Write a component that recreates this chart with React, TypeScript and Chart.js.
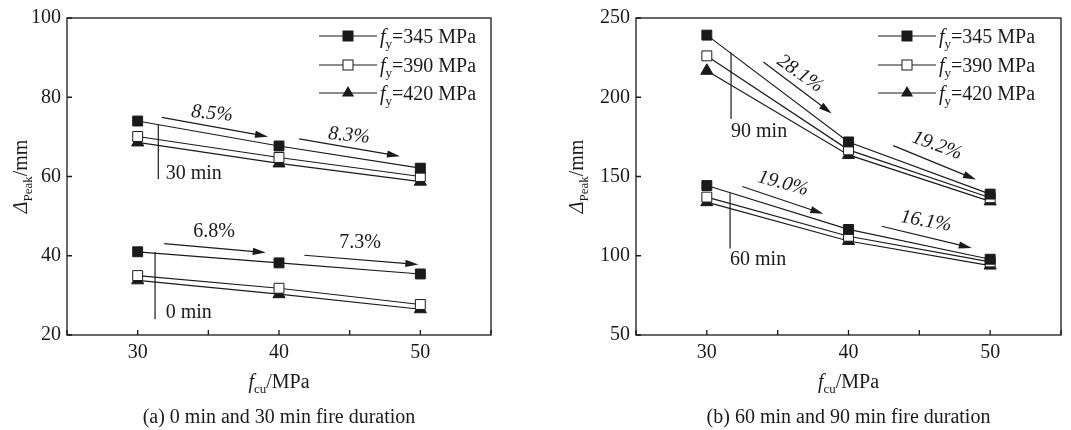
import { useEffect, useRef } from "react";
import { Chart, registerables } from "chart.js";

Chart.register(...registerables);

const FONT = "'Liberation Serif', 'Times New Roman', serif";
const INK = "#1a1a1a";
const FS = 20; // main text size
const SUB = 13; // subscript size

// Concrete cube strength f_cu (MPa)
const fcu = [30, 40, 50];
const fcuLabeled = [30, 40, 50];

// Steel yield strengths (MPa) shown in the legend
const steelGrades = ["345", "390", "420"];

// Peak deflection Δ_Peak (mm), panel (a)
const peak0_fy345 = [41.0, 38.2, 35.4];
const peak0_fy390 = [35.0, 31.8, 27.7];
const peak0_fy420 = [33.8, 30.3, 26.5];
const peak30_fy345 = [74.0, 67.7, 62.1];
const peak30_fy390 = [70.1, 64.8, 60.0];
const peak30_fy420 = [68.6, 63.3, 58.7];

// Peak deflection Δ_Peak (mm), panel (b)
const peak60_fy345 = [144.3, 116.6, 97.8];
const peak60_fy390 = [137.0, 112.3, 96.1];
const peak60_fy420 = [133.8, 109.3, 93.8];
const peak90_fy345 = [239.2, 171.8, 138.9];
const peak90_fy390 = [226.1, 166.8, 136.6];
const peak90_fy420 = [216.7, 163.6, 134.3];

// Reduction labels (text, rotation in degrees, italic)
const pctA = [
  { text: "8.5%", at: [35.26, 75.85], angle: 5, italic: true },
  { text: "8.3%", at: [44.95, 70.31], angle: 5, italic: true },
  { text: "6.8%", at: [35.4, 46.0], angle: 0, italic: false },
  { text: "7.3%", at: [45.73, 43.2], angle: 0, italic: false },
];
const pctB = [
  { text: "28.1%", at: [36.58, 214.8], angle: 35, italic: true },
  { text: "19.2%", at: [46.25, 169.5], angle: 20, italic: true },
  { text: "19.0%", at: [35.38, 145.6], angle: 15, italic: true },
  { text: "16.1%", at: [45.47, 121.7], angle: 10, italic: true },
];

// Trend arrows, in axis units
const arrowsA = [
  { from: [31.7, 74.9], to: [39.22, 70.06] },
  { from: [41.42, 69.48], to: [48.56, 65.11] },
  { from: [31.88, 43.07], to: [39.06, 40.8] },
  { from: [41.79, 40.13], to: [49.86, 37.79] },
];
const arrowsB = [
  { from: [33.99, 222.3], to: [38.81, 189.8] },
  { from: [43.16, 169.5], to: [49.0, 148.1] },
  { from: [32.5, 143.7], to: [38.22, 126.5] },
  { from: [42.34, 118.6], to: [48.7, 104.9] },
];

// Fire-duration callouts: leader line plus label
const durationA = [
  { label: "30 min", x: 31.46, top: 73.0, bottom: 59.4, labelAt: [31.98, 60.68] },
  { label: "0 min", x: 31.23, top: 40.96, bottom: 24.0, labelAt: [31.98, 25.6] },
];
const durationB = [
  { label: "90 min", x: 31.71, top: 228.2, bottom: 186.3, labelAt: [31.71, 178.3] },
  { label: "60 min", x: 31.64, top: 139.5, bottom: 104.5, labelAt: [31.64, 97.6] },
];

type Part = { t: string; italic?: boolean; sub?: boolean };

function drawRich(ctx: CanvasRenderingContext2D, parts: Part[], x: number, y: number, align: "left" | "center") {
  const fontOf = (p: Part) => `${p.italic ? "italic " : ""}${p.sub ? SUB : FS}px ${FONT}`;
  const widths = parts.map((p) => {
    ctx.font = fontOf(p);
    return ctx.measureText(p.t).width;
  });
  const total = widths.reduce((s, w) => s + w, 0);
  let cx = align === "center" ? x - total / 2 : x;
  ctx.textAlign = "left";
  ctx.textBaseline = "alphabetic";
  parts.forEach((p, i) => {
    ctx.font = fontOf(p);
    ctx.fillText(p.t, cx, y + (p.sub ? 4.5 : 0));
    cx += widths[i];
  });
}

function drawArrow(ctx: CanvasRenderingContext2D, x1: number, y1: number, x2: number, y2: number) {
  const ang = Math.atan2(y2 - y1, x2 - x1);
  const L = 13;
  const H = 3.6;
  const c = Math.cos(ang);
  const s = Math.sin(ang);
  const bx = x2 - L * c;
  const by = y2 - L * s;
  ctx.beginPath();
  ctx.moveTo(x1, y1);
  ctx.lineTo(bx + 2 * c, by + 2 * s);
  ctx.stroke();
  ctx.beginPath();
  ctx.moveTo(x2, y2);
  ctx.lineTo(bx - H * s, by + H * c);
  ctx.lineTo(bx + H * s, by - H * c);
  ctx.closePath();
  ctx.fill();
}

const markerStyles = [
  { pointStyle: "rect", backgroundColor: INK },
  { pointStyle: "rect", backgroundColor: "#ffffff" },
  { pointStyle: "triangle", backgroundColor: INK },
];

function makeDatasets(groups: number[][][]) {
  const out: any[] = [];
  groups.forEach((grades) => {
    grades.forEach((values, gi) => {
      out.push({
        data: fcu.map((x, i) => ({ x, y: values[i] })),
        borderColor: INK,
        borderWidth: 1.2,
        pointStyle: markerStyles[gi].pointStyle,
        pointBackgroundColor: markerStyles[gi].backgroundColor,
        pointBorderColor: INK,
        pointBorderWidth: 1,
        pointRadius: 7,
        pointHoverRadius: 7,
        fill: false,
        tension: 0,
      });
    });
  });
  return out;
}

type PanelSpec = {
  groups: number[][][];
  yMin: number;
  yMax: number;
  yStep: number;
  yAxisWidth: number;
  padRight: number;
  yTitleX: number;
  legendStart: number;
  pct: typeof pctA;
  arrows: typeof arrowsA;
  durations: typeof durationA;
  caption: string;
  width: number;
  left: number;
};

const panelA: PanelSpec = {
  groups: [
    [peak0_fy345, peak0_fy390, peak0_fy420],
    [peak30_fy345, peak30_fy390, peak30_fy420],
  ],
  yMin: 20,
  yMax: 100,
  yStep: 20,
  yAxisWidth: 67,
  padRight: 44,
  yTitleX: 20,
  legendStart: 172,
  pct: pctA,
  arrows: arrowsA,
  durations: durationA,
  caption: "(a) 0 min and 30 min fire duration",
  width: 535,
  left: 0,
};

const panelB: PanelSpec = {
  groups: [
    [peak60_fy345, peak60_fy390, peak60_fy420],
    [peak90_fy345, peak90_fy390, peak90_fy420],
  ],
  yMin: 50,
  yMax: 250,
  yStep: 50,
  yAxisWidth: 101,
  padRight: 10,
  yTitleX: 41,
  legendStart: 183,
  pct: pctB,
  arrows: arrowsB,
  durations: durationB,
  caption: "(b) 60 min and 90 min fire duration",
  width: 536,
  left: 535,
};

function decorations(spec: PanelSpec) {
  return {
    id: "decor",
    beforeDatasetsDraw(chart: any) {
      const { ctx, chartArea: a, scales } = chart;
      const x = scales.x;
      const y = scales.y;
      ctx.save();
      ctx.strokeStyle = INK;
      ctx.lineWidth = 1.3;
      ctx.strokeRect(a.left, a.top, a.right - a.left, a.bottom - a.top);
      ctx.beginPath();
      x.ticks.forEach((t: any) => {
        const px = x.getPixelForValue(t.value);
        ctx.moveTo(px, a.bottom);
        ctx.lineTo(px, a.bottom - 5);
      });
      y.ticks.forEach((t: any) => {
        const py = y.getPixelForValue(t.value);
        ctx.moveTo(a.left, py);
        ctx.lineTo(a.left + 5, py);
      });
      ctx.stroke();
      ctx.restore();
    },
    afterDatasetsDraw(chart: any) {
      const { ctx, chartArea: a, scales } = chart;
      const x = scales.x;
      const y = scales.y;
      const px = (v: number) => x.getPixelForValue(v);
      const py = (v: number) => y.getPixelForValue(v);
      ctx.save();
      ctx.strokeStyle = INK;
      ctx.fillStyle = INK;
      ctx.lineWidth = 1.2;

      spec.arrows.forEach((ar) => drawArrow(ctx, px(ar.from[0]), py(ar.from[1]), px(ar.to[0]), py(ar.to[1])));

      spec.pct.forEach((p) => {
        ctx.save();
        ctx.translate(px(p.at[0]), py(p.at[1]));
        ctx.rotate((p.angle * Math.PI) / 180);
        ctx.font = `${p.italic ? "italic " : ""}${FS}px ${FONT}`;
        ctx.textAlign = "center";
        ctx.textBaseline = "middle";
        ctx.fillText(p.text, 0, 0);
        ctx.restore();
      });

      spec.durations.forEach((d) => {
        ctx.beginPath();
        ctx.moveTo(px(d.x), py(d.top));
        ctx.lineTo(px(d.x), py(d.bottom));
        ctx.stroke();
        ctx.font = `${FS}px ${FONT}`;
        ctx.textAlign = "left";
        ctx.textBaseline = "middle";
        ctx.fillText(d.label, px(d.labelAt[0]), py(d.labelAt[1]));
      });

      // legend
      const rows = [18, 47, 75];
      const lx0 = a.right - spec.legendStart;
      const lx1 = lx0 + 58;
      steelGrades.forEach((g, i) => {
        const ry = a.top + rows[i];
        ctx.beginPath();
        ctx.moveTo(lx0, ry);
        ctx.lineTo(lx1, ry);
        ctx.stroke();
        const mx = (lx0 + lx1) / 2;
        ctx.lineWidth = 1;
        if (markerStyles[i].pointStyle === "rect") {
          ctx.fillStyle = markerStyles[i].backgroundColor;
          ctx.fillRect(mx - 5, ry - 5, 10, 10);
          ctx.strokeRect(mx - 5, ry - 5, 10, 10);
        } else {
          ctx.fillStyle = INK;
          ctx.beginPath();
          ctx.moveTo(mx, ry - 7);
          ctx.lineTo(mx + 6.1, ry + 3.5);
          ctx.lineTo(mx - 6.1, ry + 3.5);
          ctx.closePath();
          ctx.fill();
        }
        ctx.lineWidth = 1.2;
        ctx.fillStyle = INK;
        drawRich(ctx, [{ t: "f", italic: true }, { t: "y", sub: true }, { t: `=${g} MPa` }], lx1 + 3, ry + 7, "left");
      });
      ctx.restore();
    },
    afterDraw(chart: any) {
      const { ctx, chartArea: a } = chart;
      ctx.save();
      ctx.fillStyle = INK;
      const cx = (a.left + a.right) / 2;
      // y-axis title
      ctx.save();
      ctx.translate(spec.yTitleX, (a.top + a.bottom) / 2);
      ctx.rotate(-Math.PI / 2);
      drawRich(ctx, [{ t: "Δ", italic: true }, { t: "Peak", sub: true }, { t: "/mm" }], 0, 7, "center");
      ctx.restore();
      // x-axis title
      drawRich(ctx, [{ t: "f", italic: true }, { t: "cu", sub: true }, { t: "/MPa" }], cx, 388, "center");
      // caption
      drawRich(ctx, [{ t: spec.caption }], cx, 423, "center");
      ctx.restore();
    },
  };
}

function Panel({ spec }: { spec: PanelSpec }) {
  const ref = useRef<HTMLCanvasElement | null>(null);
  useEffect(() => {
    if (!ref.current) return;
    const chart = new Chart(ref.current, {
      type: "line",
      data: { datasets: makeDatasets(spec.groups) },
      options: {
        animation: false,
        responsive: false,
        events: [],
        layout: { padding: { left: 0, right: spec.padRight, top: 17, bottom: 0 } },
        plugins: { legend: { display: false }, tooltip: { enabled: false } },
        scales: {
          x: {
            type: "linear",
            min: 25,
            max: 55,
            ticks: {
              stepSize: 5,
              autoSkip: false,
              maxRotation: 0,
              padding: 6,
              color: INK,
              font: { family: FONT, size: FS },
              callback: (v: any) => (fcuLabeled.includes(Number(v)) ? String(v) : ""),
            },
            grid: { display: false, drawTicks: false },
            border: { display: false },
            afterFit: (s: any) => {
              s.height = 95;
            },
          },
          y: {
            type: "linear",
            min: spec.yMin,
            max: spec.yMax,
            ticks: {
              stepSize: spec.yStep,
              padding: 6,
              color: INK,
              font: { family: FONT, size: FS },
            },
            grid: { display: false, drawTicks: false },
            border: { display: false },
            afterFit: (s: any) => {
              s.width = spec.yAxisWidth;
            },
          },
        },
      },
      plugins: [decorations(spec)],
    } as any);
    return () => chart.destroy();
  }, [spec]);
  return (
    <canvas
      ref={ref}
      width={spec.width}
      height={430}
      style={{ position: "absolute", left: spec.left, top: 0, width: spec.width, height: 430, display: "block" }}
    />
  );
}

export default function App() {
  return (
    <div style={{ position: "fixed", left: 0, top: 0, width: 1071, height: 430, background: "#ffffff", overflow: "hidden" }}>
      <Panel spec={panelA} />
      <Panel spec={panelB} />
    </div>
  );
}
